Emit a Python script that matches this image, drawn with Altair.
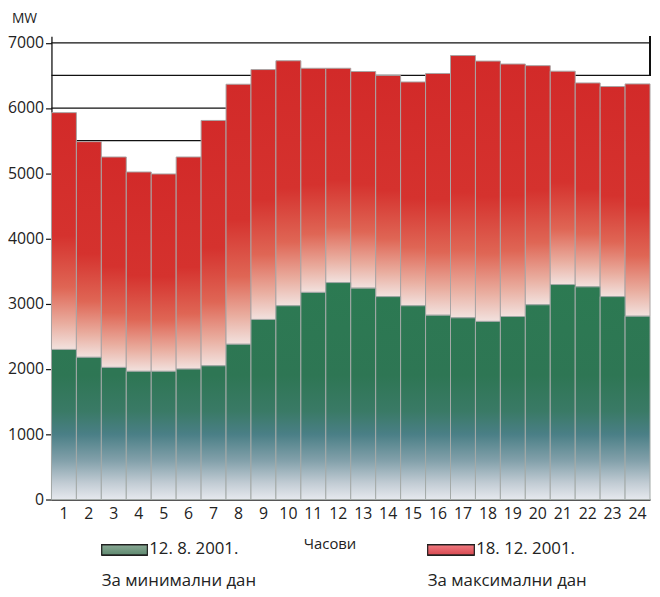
import altair as alt
import pandas as pd

hours = list(range(1, 25))
max_day = [5930, 5485, 5250, 5020, 4990, 5250, 5810, 6365, 6590, 6725, 6610, 6610,
           6560, 6500, 6400, 6530, 6805, 6720, 6675, 6650, 6565, 6385, 6330, 6370]
min_day = [2300, 2180, 2025, 1965, 1965, 2000, 2050, 2380, 2760, 2970, 3175, 3325,
           3240, 3110, 2970, 2825, 2785, 2730, 2805, 2985, 3295, 3260, 3110, 2810]
grid_levels = [5500, 6000, 6500, 7000]
y_ticks = list(range(0, 7001, 500))
legend_labels = ["12. 8. 2001.", "18. 12. 2001."]
legend_notes = ["За минимални дан", "За максимални дан"]

W, H = 606, 469
FONT = "Open Sans"

df = pd.DataFrame({"hour": hours, "max": max_day, "min": min_day})

xs = alt.Scale(domain=hours, paddingInner=0, paddingOuter=0)
ys = alt.Scale(domain=[0, 7100], nice=False, zero=True)

x_enc = alt.X("hour:O", scale=xs,
              axis=alt.Axis(title=None, labelAngle=0, ticks=False, labelFontSize=16,
                            labelFont=FONT, labelColor="#222", labelPadding=6,
                            domainColor="#555", domainWidth=2, grid=False))
y_axis = alt.Axis(title=None, values=y_ticks,
                  labelExpr="datum.value % 1000 == 0 ? datum.label : ''",
                  format="d", labelFontSize=16, labelFont=FONT, labelColor="#222",
                  tickSize=6, tickColor="#111", tickWidth=1.2, labelPadding=2,
                  domainColor="#111", domainWidth=1.3, grid=False)

base = alt.Chart(df)

# gridlines (behind bars); this layer carries the y axis
grid = alt.Chart(pd.DataFrame({"level": grid_levels})).mark_rule(
    color="#111", strokeWidth=1.2).encode(
    y=alt.Y("level:Q", scale=ys, axis=y_axis), x=alt.value(0), x2=alt.value(W))

# red bars (max day), drawn from green top to red top with relative gradient
red_grad = alt.Gradient(
    gradient="linear", x1=0, x2=0, y1=0, y2=1,
    stops=[alt.GradientStop(color="#d22a29", offset=0),
           alt.GradientStop(color="#d5322e", offset=0.52),
           alt.GradientStop(color="#df6655", offset=0.74),
           alt.GradientStop(color="#e9ad9f", offset=0.89),
           alt.GradientStop(color="#f2e2df", offset=1)])
red = base.mark_bar(color=red_grad, stroke="#a9a4a4", strokeWidth=1).encode(
    x=x_enc, y=alt.Y("max:Q", scale=ys), y2="min:Q")

# green bars: absolute vertical colour ramp (value -> colour)
g_keys = [(3400, "#2c7a52"), (1900, "#2e7654"), (1350, "#3a7a66"),
          (1000, "#4a7f86"), (600, "#82a0aa"), (250, "#c2ccd4"), (0, "#e6e9ee")]


def hex2rgb(h):
    return [int(h[i:i + 2], 16) for i in (1, 3, 5)]


def rgb2hex(c):
    return "#" + "".join(f"{int(round(v)):02x}" for v in c)


def color_at(v):
    for (v1, c1), (v2, c2) in zip(g_keys[:-1], g_keys[1:]):
        if v2 <= v <= v1:
            t = (v1 - v) / (v1 - v2)
            a, b = hex2rgb(c1), hex2rgb(c2)
            return rgb2hex([a[k] + (b[k] - a[k]) * t for k in range(3)])
    return g_keys[0][1]


green_layers = []
for h, g in zip(hours, min_day):
    stops = [alt.GradientStop(color=color_at(g), offset=0)]
    for v, c in g_keys:
        if v < g:
            stops.append(alt.GradientStop(color=c, offset=(g - v) / g))
    grad = alt.Gradient(gradient="linear", x1=0, x2=0, y1=0, y2=1, stops=stops)
    green_layers.append(
        base.mark_bar(color=grad, stroke="#a4aaa8", strokeWidth=1).encode(
            x=x_enc, y=alt.Y("min:Q", scale=ys)).transform_filter(alt.datum.hour == h))

right_edge = alt.Chart(df).mark_rule(color="#111", strokeWidth=1.2).encode(
    x=alt.value(W), y=alt.value(0), y2=alt.value(40))

# texts / legend
txt = lambda s, x, y, size, align="left": alt.Chart(pd.DataFrame({"t": [s]})).mark_text(
    font=FONT, fontSize=size, color="#222", align=align, baseline="middle").encode(
    text="t:N", x=alt.value(x), y=alt.value(y))

mw = txt("MW", -40, -17, 14)
xtitle = txt("Часови", 282, 514, 15, "center")

sw_green = alt.Chart(df).mark_rect(
    color=alt.Gradient(gradient="linear", x1=0, x2=0, y1=0, y2=1,
                       stops=[alt.GradientStop(color="#89a894", offset=0),
                              alt.GradientStop(color="#5f8a70", offset=1)]),
    stroke="#222", strokeWidth=1).encode(
    x=alt.value(51), x2=alt.value(97), y=alt.value(515), y2=alt.value(525))
sw_red = alt.Chart(df).mark_rect(
    color=alt.Gradient(gradient="linear", x1=0, x2=0, y1=0, y2=1,
                       stops=[alt.GradientStop(color="#f07a80", offset=0),
                              alt.GradientStop(color="#d84a52", offset=1)]),
    stroke="#222", strokeWidth=1).encode(
    x=alt.value(381), x2=alt.value(428), y=alt.value(515), y2=alt.value(525))

leg1 = txt(legend_labels[0], 99, 519, 17)
leg2 = txt(legend_labels[1], 430, 519, 17)
note1 = txt(legend_notes[0], 51, 552, 17)
note2 = txt(legend_notes[1], 381, 552, 17)

chart = alt.layer(grid, red, *green_layers, right_edge, mw, xtitle,
                  sw_green, sw_red, leg1, leg2, note1, note2).properties(
    width=W, height=H,
    autosize=alt.AutoSizeParams(type="none"),
    padding={"left": 44, "top": 25, "right": 2, "bottom": 92},
).configure_view(stroke=None)

chart.save("out.html", embed_options={"renderer": "svg", "actions": False})
